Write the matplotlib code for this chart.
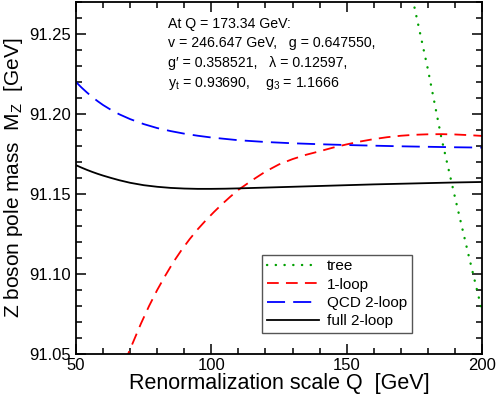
import numpy as np
import matplotlib
matplotlib.use('Agg')
import matplotlib.pyplot as plt
from matplotlib.ticker import MultipleLocator, FormatStrFormatter

plt.rcParams['font.family'] = 'Liberation Sans'
plt.rcParams['mathtext.fontset'] = 'custom'
plt.rcParams['mathtext.rm'] = 'Liberation Sans'
plt.rcParams['mathtext.it'] = 'Liberation Sans:italic'

# Data (Q in GeV, M_Z in GeV)
q_tree = [172, 175, 180, 185, 190, 195, 200]
mz_tree = [91.290, 91.267, 91.228, 91.185, 91.148, 91.112, 91.077]

q_1loop = [68, 71, 74, 77, 80, 83, 86, 89, 92, 95, 98, 101, 104, 107, 110,
           115, 120, 125, 130, 135, 140, 145, 150, 155, 160, 165, 170, 175,
           180, 185, 190, 195, 200]
mz_1loop = [91.0450, 91.0570, 91.0690, 91.0800, 91.0900, 91.0990, 91.1075,
            91.1150, 91.1218, 91.1280, 91.1336, 91.1388, 91.1437, 91.1483,
            91.1526, 91.1585, 91.1640, 91.1685, 91.1718, 91.1745, 91.1767,
            91.1790, 91.1810, 91.1828, 91.1843, 91.1855, 91.1864, 91.1870,
            91.1873, 91.1874, 91.1872, 91.1868, 91.1863]

q_qcd = [50, 52, 54, 56, 58, 60, 63, 66, 70, 75, 80, 85, 90, 95, 100, 110,
         120, 130, 140, 150, 160, 170, 180, 190, 200]
mz_qcd = [91.2200, 91.2166, 91.2135, 91.2106, 91.2080, 91.2056, 91.2025,
          91.1998, 91.1968, 91.1937, 91.1912, 91.1893, 91.1877, 91.1864,
          91.1853, 91.1836, 91.1825, 91.1817, 91.1811, 91.1806, 91.1802,
          91.1798, 91.1795, 91.1792, 91.1790]

q_full = [50, 52, 54, 56, 58, 60, 63, 66, 70, 75, 80, 85, 90, 95, 100, 105,
          110, 120, 130, 140, 150, 160, 170, 180, 190, 200]
mz_full = [91.1680, 91.1665, 91.1651, 91.1638, 91.1626, 91.1615, 91.1600,
           91.1586, 91.1570, 91.1555, 91.1545, 91.1538, 91.1534, 91.1532,
           91.1532, 91.1533, 91.1535, 91.1540, 91.1545, 91.1550, 91.1555,
           91.1560, 91.1564, 91.1568, 91.1572, 91.1575]

fig = plt.figure(figsize=(4.98, 3.98), dpi=100)
ax = fig.add_axes([0.1526, 0.1106, 0.8153, 0.8844])

ax.plot(q_tree, mz_tree, color='#00a000', lw=1.7, linestyle=(0, (0.1, 3.6)),
        dash_capstyle='round', label='tree')
ax.plot(q_1loop, mz_1loop, color='#ff0000', lw=1.3, linestyle=(0, (6.5, 4)),
        label='1-loop')
ax.plot(q_qcd, mz_qcd, color='#0000ff', lw=1.3, linestyle=(0, (10, 4.5)),
        label='QCD 2-loop')
ax.plot(q_full, mz_full, color='black', lw=1.3, label='full 2-loop')

ax.set_xlim(50, 200)
ax.set_ylim(91.05, 91.27)
ax.xaxis.set_major_locator(MultipleLocator(50))
ax.xaxis.set_minor_locator(MultipleLocator(10))
ax.yaxis.set_major_locator(MultipleLocator(0.05))
ax.yaxis.set_minor_locator(MultipleLocator(0.01))
ax.yaxis.set_major_formatter(FormatStrFormatter('%.2f'))
ax.tick_params(which='both', direction='in', top=True, right=True, width=1.1,
               labelsize=12)
ax.tick_params(which='major', length=7)
ax.tick_params(which='minor', length=4)
ax.tick_params(axis='x', pad=3)
for s in ax.spines.values():
    s.set_linewidth(1.3)

ax.set_xlabel('Renormalization scale Q  [GeV]', fontsize=15.5, labelpad=0)
ax.set_ylabel(r'Z boson pole mass  M$_\mathregular{Z}$  [GeV]', fontsize=15,
              labelpad=3)

txt = ('At Q = 173.34 GeV:\n'
       'v = 246.647 GeV,   g = 0.647550,\n'
       'g\u2032 = 0.358521,   \u03bb = 0.12597,\n'
       r'y$_\mathregular{t}$ = 0.93690,    g$_\mathregular{3}$ = 1.1666')
ax.text(0.2266, 0.957, txt, transform=ax.transAxes, fontsize=10.2,
        va='top', ha='left', linespacing=1.48)

leg = ax.legend(loc='lower left', bbox_to_anchor=(0.459, 0.06), fontsize=11,
                fancybox=False, framealpha=1, edgecolor='#555555',
                handlelength=3.4, borderpad=0.3, labelspacing=0.28,
                handletextpad=0.55, borderaxespad=0)
leg.get_frame().set_linewidth(1.0)

fig.savefig('out.png', dpi=100)
